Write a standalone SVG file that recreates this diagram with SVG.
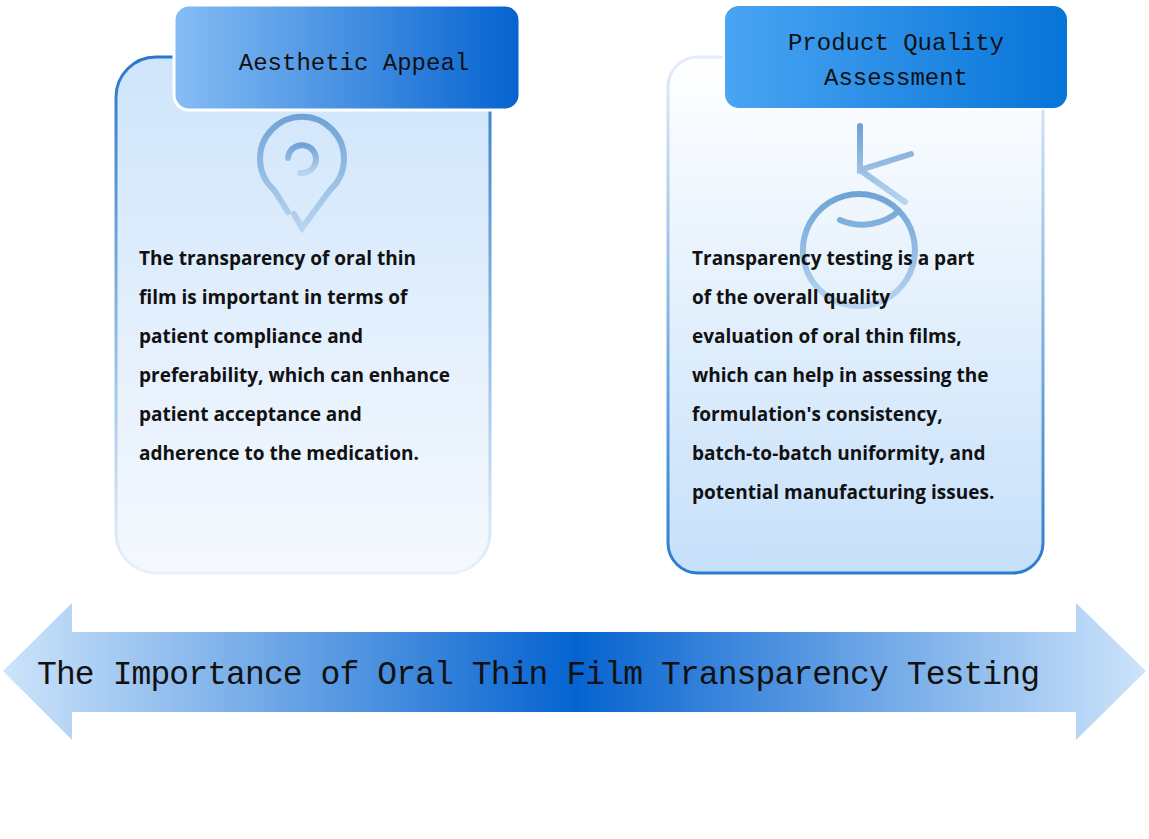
<svg xmlns="http://www.w3.org/2000/svg" width="1149" height="839" viewBox="0 0 1149 839">
<defs>
<linearGradient id="g1" x1="0" y1="0" x2="0" y2="1"><stop offset="0" stop-color="#cfe5fb"/><stop offset="1" stop-color="#f5f9fe"/></linearGradient>
<linearGradient id="g1s" x1="0" y1="0" x2="0" y2="1"><stop offset="0" stop-color="#2a78c8"/><stop offset="1" stop-color="#e8f2fc"/></linearGradient>
<linearGradient id="g2" x1="0" y1="0" x2="0" y2="1"><stop offset="0" stop-color="#ffffff"/><stop offset="1" stop-color="#c6e0fa"/></linearGradient>
<linearGradient id="g2s" x1="0" y1="0" x2="0" y2="1"><stop offset="0" stop-color="#e3eefa"/><stop offset="1" stop-color="#2a7ccc"/></linearGradient>
<linearGradient id="h1" x1="0" y1="0" x2="1" y2="0"><stop offset="0" stop-color="#86bdf4"/><stop offset="1" stop-color="#0563d0"/></linearGradient>
<linearGradient id="h2" x1="0" y1="0" x2="1" y2="0"><stop offset="0" stop-color="#4aa5f3"/><stop offset="1" stop-color="#0674d8"/></linearGradient>
<linearGradient id="ar" x1="0" y1="0" x2="1" y2="0"><stop offset="0" stop-color="#cde4fb"/><stop offset="0.5" stop-color="#0563d0"/><stop offset="1" stop-color="#cde4fb"/></linearGradient>
<linearGradient id="ic" x1="0" y1="0" x2="0" y2="1"><stop offset="0" stop-color="#6fa3d6"/><stop offset="1" stop-color="#b8d4ef"/></linearGradient>
</defs>
<style>
.hd{font-family:"Liberation Mono",monospace;font-size:24px;fill:#111}
.bd{font-family:"Open Sans","Liberation Sans",sans-serif;font-weight:bold;font-size:19px;fill:#111}
</style>
<rect width="1149" height="839" fill="#fff"/>
<g id="card1">
<rect x="116" y="57" width="374" height="516" rx="40" fill="url(#g1)" stroke="url(#g1s)" stroke-width="3"/>
<rect x="174" y="5" width="346" height="105" rx="15" fill="url(#h1)" stroke="#fff" stroke-width="3"/>
<text class="hd" x="354" y="70" text-anchor="middle">Aesthetic Appeal</text>
<g fill="none" stroke="url(#ic)" stroke-width="6" stroke-linecap="round">
<path d="M294 214 L302 228 L330 190 A42 42 0 1 0 274 190 L288 212"/>
<path d="M300 173 A14 14 0 1 0 288 158"/>
</g>
<text class="bd" x="139" y="265">The transparency of oral thin</text>
<text class="bd" x="139" y="304">film is important in terms of</text>
<text class="bd" x="139" y="343">patient compliance and</text>
<text class="bd" x="139" y="382">preferability, which can enhance</text>
<text class="bd" x="139" y="421">patient acceptance and</text>
<text class="bd" x="139" y="460">adherence to the medication.</text>
</g>
<g id="card2">
<rect x="668" y="57" width="375" height="516" rx="30" fill="url(#g2)" stroke="url(#g2s)" stroke-width="3"/>
<rect x="724" y="5" width="344" height="104" rx="15" fill="url(#h2)" stroke="#fff" stroke-width="2"/>
<text class="hd" x="896" y="50" text-anchor="middle">Product Quality</text>
<text class="hd" x="896" y="85" text-anchor="middle">Assessment</text>
<g fill="none" stroke="url(#ic)" stroke-width="6" stroke-linecap="round">
<path d="M899 211 A56 56 0 1 1 898 210 M899 211 A56 56 0 0 1 840 220"/>
<path d="M860 126 L860 170 L911 154 M860 170 L905 202"/>
</g>
<text class="bd" x="692" y="265">Transparency testing is a part</text>
<text class="bd" x="692" y="304">of the overall quality</text>
<text class="bd" x="692" y="343">evaluation of oral thin films,</text>
<text class="bd" x="692" y="382">which can help in assessing the</text>
<text class="bd" x="692" y="421">formulation's consistency,</text>
<text class="bd" x="692" y="460">batch-to-batch uniformity, and</text>
<text class="bd" x="692" y="499">potential manufacturing issues.</text>
</g>
<g id="arrow">
<polygon points="3,671 72,603 72,632 1076,632 1076,603 1146,671 1076,740 1076,712 72,712 72,740" fill="url(#ar)"/>
<text x="37" y="684" font-family="Liberation Mono,monospace" font-size="33" fill="#111" textLength="1003">The Importance of Oral Thin Film Transparency Testing</text>
</g>
</svg>
